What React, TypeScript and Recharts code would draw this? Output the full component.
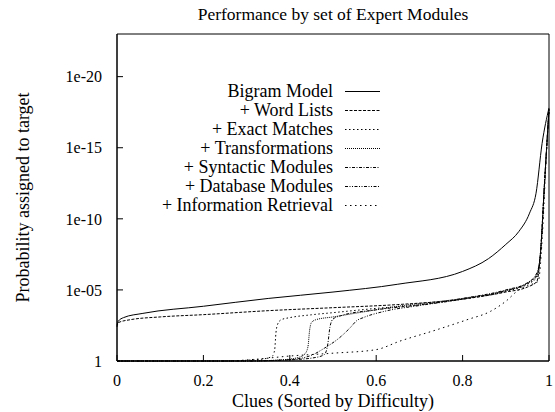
import { Legend, Line, LineChart, ReferenceArea, XAxis, YAxis } from "recharts";

// y is the exponent: 5 means a probability of 1e-05 (drawn upward)
const xTicks = [0, 0.2, 0.4, 0.6, 0.8, 1];
const xTickLabels = ["0", "0.2", "0.4", "0.6", "0.8", "1"];
const yTicks = [0, 5, 10, 15, 20];
const yTickLabels = ["1", "1e-05", "1e-10", "1e-15", "1e-20"];

const bigramX = [0, 0.003, 0.015, 0.06, 0.2, 0.35, 0.5, 0.65, 0.8, 0.86, 0.9, 0.93, 0.955, 0.97, 0.984, 1];
const bigramY = [2.5, 2.8, 3.05, 3.35, 3.85, 4.4, 4.85, 5.4, 6.3, 7.2, 8.2, 9.1, 10.4, 11.8, 15.3, 17.8];

const wordX = [0, 0.003, 0.03, 0.1, 0.2, 0.35, 0.5, 0.65, 0.8, 0.9, 0.95, 0.972, 0.98, 0.99, 1];
const wordY = [2.4, 2.7, 2.9, 3.1, 3.26, 3.54, 3.75, 3.97, 4.35, 4.85, 5.2, 5.6, 7.5, 12.7, 17.7];

const exactX = [0, 0.25, 0.3, 0.34, 0.36, 0.365, 0.368, 0.372, 0.38, 0.4, 0.45, 0.5, 0.6, 0.7, 0.8, 0.9, 0.95, 0.972, 0.98, 0.99, 1];
const exactY = [0, 0, 0.05, 0.15, 0.35, 0.8, 2.0, 2.6, 2.9, 3.05, 3.25, 3.4, 3.7, 3.95, 4.35, 4.9, 5.4, 5.9, 7.5, 12.7, 17.7];

const transX = [0, 0.3, 0.38, 0.42, 0.435, 0.442, 0.446, 0.45, 0.46, 0.5, 0.56, 0.65, 0.8, 0.9, 0.95, 0.972, 0.98, 0.99, 1];
const transY = [0, 0, 0.08, 0.25, 0.5, 1.0, 2.2, 2.7, 2.9, 3.1, 3.4, 3.85, 4.4, 4.95, 5.5, 6.1, 7.5, 12.7, 17.7];

const syntX = [0, 0.3, 0.4, 0.46, 0.48, 0.488, 0.493, 0.5, 0.52, 0.6, 0.7, 0.8, 0.9, 0.95, 0.972, 0.98, 0.99, 1];
const syntY = [0, 0, 0.08, 0.25, 0.45, 1.2, 2.4, 2.95, 3.2, 3.6, 3.95, 4.4, 5.0, 5.5, 6.2, 7.5, 12.7, 17.7];

const dbX = [0, 0.3, 0.4, 0.45, 0.48, 0.516, 0.54, 0.555, 0.57, 0.62, 0.7, 0.8, 0.9, 0.95, 0.972, 0.98, 0.99, 1];
const dbY = [0, 0, 0.1, 0.4, 0.9, 1.66, 2.35, 2.84, 3.05, 3.5, 3.9, 4.35, 4.95, 5.45, 6.0, 7.5, 12.7, 17.7];

const irX = [0, 0.25, 0.32, 0.4, 0.5, 0.6, 0.655, 0.73, 0.81, 0.865, 0.9, 0.93, 0.95, 0.975, 0.985, 0.993, 1];
const irY = [0, 0, 0.12, 0.35, 0.55, 0.8, 1.4, 2.1, 2.9, 3.5, 4.2, 5.0, 5.3, 5.6, 9, 14, 17.7];

const font = '"Liberation Serif", "DejaVu Serif", "Noto Serif", serif';

const series = [
  { name: "Bigram Model", xs: bigramX, ys: bigramY, dash: undefined },
  { name: "+ Word Lists", xs: wordX, ys: wordY, dash: "3 1.5" },
  { name: "+ Exact Matches", xs: exactX, ys: exactY, dash: "1.5 2.5" },
  { name: "+ Transformations", xs: transX, ys: transY, dash: "1 1" },
  { name: "+ Syntactic Modules", xs: syntX, ys: syntY, dash: "3 1.5 1 1.5" },
  { name: "+ Database Modules", xs: dbX, ys: dbY, dash: "3 1.5 1 1.5 1 1.5" },
  { name: "+ Information Retrieval", xs: irX, ys: irY, dash: "1.5 3.5" },
];

const toRows = (xs: number[], ys: number[]) => xs.map((x, i) => ({ x, y: ys[i] }));

function KeyBox() {
  return (
    <div style={{ fontFamily: font, fontSize: 18, color: "#000" }}>
      {series.map((s) => (
        <div key={s.name} style={{ display: "flex", alignItems: "center", height: 19, lineHeight: "19px" }}>
          <span style={{ width: 333, textAlign: "right", whiteSpace: "nowrap" }}>{s.name}</span>
          <svg width={35} height={19} style={{ marginLeft: 12 }}>
            <line x1={0} y1={9.5} x2={35} y2={9.5} stroke="#000" strokeWidth={1} strokeDasharray={s.dash} />
          </svg>
        </div>
      ))}
    </div>
  );
}

const tickStyle = { fill: "#000", fontFamily: font, fontSize: 16 };

export default function App() {
  return (
    <div style={{ position: "absolute", left: 0, top: 0, width: 555, height: 412, background: "#fff" }}>
      <div
        style={{
          position: "absolute",
          top: 5,
          left: 117,
          width: 432,
          textAlign: "center",
          fontFamily: font,
          fontSize: 17.5,
          lineHeight: "18px",
          whiteSpace: "nowrap",
          zIndex: 2,
        }}
      >
        Performance by set of Expert Modules
      </div>
      <LineChart width={555} height={412} margin={{ top: 34, right: 6, bottom: 0, left: 0 }}>
        <XAxis
          dataKey="x"
          type="number"
          domain={[0, 1]}
          ticks={xTicks}
          tickFormatter={(v: number) => xTickLabels[xTicks.indexOf(v)]}
          height={51}
          stroke="#000"
          tickSize={-6}
          tickMargin={19.5}
          tick={tickStyle}
          label={{
            content: () => (
              <text x={333} y={407} textAnchor="middle" fontFamily={font} fontSize={18} fill="#000">
                Clues (Sorted by Difficulty)
              </text>
            ),
          }}
        />
        <XAxis
          xAxisId="top"
          orientation="top"
          dataKey="x"
          type="number"
          domain={[0, 1]}
          allowDataOverflow
          ticks={xTicks}
          tickFormatter={() => ""}
          height={0}
          stroke="#000"
          tickSize={-6}
        />
        <YAxis
          type="number"
          domain={[0, 23]}
          ticks={yTicks}
          tickFormatter={(v: number) => yTickLabels[yTicks.indexOf(v)]}
          width={117}
          stroke="#000"
          tickSize={-6}
          tickMargin={21}
          tick={tickStyle}
          label={{
            content: () => (
              <text
                x={29}
                y={197.5}
                transform="rotate(-90 29 197.5)"
                textAnchor="middle"
                fontFamily={font}
                fontSize={18}
                fill="#000"
              >
                Probability assigned to target
              </text>
            ),
          }}
        />
        <YAxis
          yAxisId="right"
          orientation="right"
          type="number"
          domain={[0, 23]}
          allowDataOverflow
          ticks={yTicks}
          tickFormatter={() => ""}
          width={0}
          stroke="#000"
          tickSize={-6}
        />
        <ReferenceArea x1={0} x2={1} y1={0} y2={23} fill="none" stroke="#000" strokeWidth={1} ifOverflow="visible" />
        <Legend
          layout="vertical"
          align="center"
          verticalAlign="middle"
          wrapperStyle={{ left: 0, top: 82, width: 400 }}
          content={() => <KeyBox />}
        />
        {series.map((s) => (
          <Line
            key={s.name}
            name={s.name}
            data={toRows(s.xs, s.ys)}
            dataKey="y"
            type="monotone"
            stroke="#000"
            strokeWidth={1}
            strokeDasharray={s.dash}
            dot={false}
            activeDot={false}
            isAnimationActive={false}
          />
        ))}
      </LineChart>
    </div>
  );
}
